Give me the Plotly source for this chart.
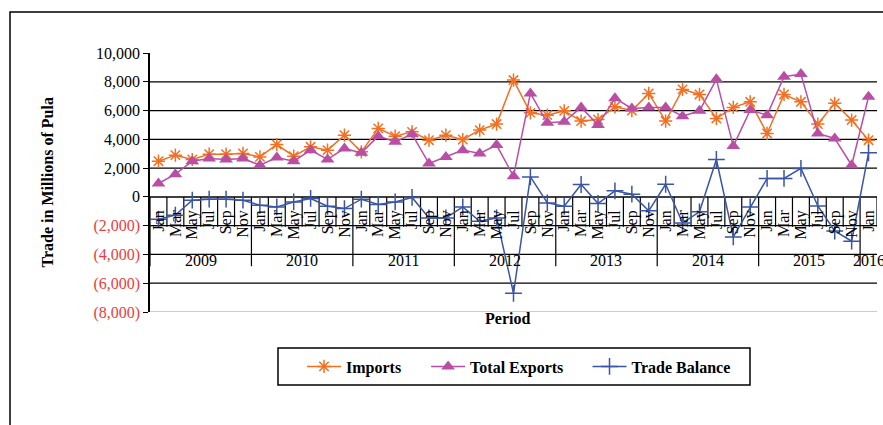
import plotly.graph_objects as go

# ---------------- data ----------------
years = [2009, 2010, 2011, 2012, 2013, 2014, 2015, 2016]
months = ["Jan", "Mar", "May", "Jul", "Sep", "Nov"]

imports = [2480, 2900, 2600, 2970, 2970, 3020,
           2780, 3640, 2830, 3480, 3250, 4290,
           3130, 4760, 4220, 4520, 3940, 4290,
           3990, 4640, 5060, 8120, 5840, 5680,
           5980, 5270, 5380, 6260, 6000, 7190,
           5270, 7470, 7120, 5450, 6220, 6610,
           4410, 7120, 6610, 5060, 6500, 5340,
           3940]
total_exports = [930, 1580, 2480, 2670, 2600, 2670,
                 2200, 2740, 2480, 3250, 2600, 3370,
                 3060, 4220, 3830, 4360, 2320, 2780,
                 3250, 3020, 3600, 1440, 7190, 5150,
                 5220, 6220, 4990, 6850, 6150, 6220,
                 6220, 5610, 5980, 8170, 3530, 6030,
                 5680, 8350, 8540, 4410, 4060, 2200,
                 6960]
trade_balance = [-1550, -1270, -230, -160, -160, -230,
                 -580, -700, -350, -110, -650, -810,
                 -160, -530, -350, -40, -1460, -1460,
                 -700, -1690, -1460, -6700, 1390, -420,
                 -650, 860, -460, 420, 190, -970,
                 880, -1810, -1040, 2600, -2780, -700,
                 1280, 1280, 1980, -630, -2370, -3080,
                 3060]
y_tick_values = [10000, 8000, 6000, 4000, 2000, 0, -2000, -4000, -6000, -8000]

# ---------------- derived ----------------
n = len(imports)
period_year = [years[i // len(months)] for i in range(n)]
period_month = [months[i % len(months)] for i in range(n)]
periods = [f"{m} {y}" for m, y in zip(period_month, period_year)]

RED = "#EE3B3B"
def fmt(v):
    if v < 0:
        return f"<span style='color:{RED}'>({abs(v):,})</span>"
    return f"{v:,}"
y_tick_text = [fmt(v) for v in y_tick_values]

SERIF = "Liberation Serif, Times New Roman, serif"
C_IMP = "#F36F21"
C_EXP = "#B84FA5"
C_BAL = "#3A55A4"
NB = "\u00a0"

fig = go.Figure()
fig.add_trace(go.Scatter(
    x=periods, y=imports, name="Imports" + NB * 5, mode="lines+markers",
    line=dict(color=C_IMP, width=1.5),
    marker=dict(symbol="asterisk-open", size=11, line=dict(color=C_IMP, width=1.5)),
    cliponaxis=False))
fig.add_trace(go.Scatter(
    x=periods, y=total_exports, name="Total Exports" + NB * 4 + "\u2009", mode="lines+markers",
    line=dict(color=C_EXP, width=1.5),
    marker=dict(symbol="triangle-up", size=12, color=C_EXP),
    cliponaxis=False))
fig.add_trace(go.Scatter(
    x=periods, y=trade_balance, name="Trade Balance", mode="lines+markers",
    line=dict(color=C_BAL, width=1.5),
    marker=dict(symbol="cross-thin-open", size=12, line=dict(color=C_BAL, width=1.5)),
    cliponaxis=False))

ymin, ymax = min(y_tick_values), max(y_tick_values)
zero_frac = (0 - ymin) / (ymax - ymin)

shapes = []
# horizontal gridlines
for v in y_tick_values:
    if v == ymax:
        continue
    shapes.append(dict(type="line", xref="paper", yref="y", x0=0, x1=1, y0=v, y1=v,
                       line=dict(color="#9A9A9A" if v == ymin else "black",
                                 width=1.5 if v == 0 else 1.2),
                       layer="below"))
# category separators (month level and year level)
for b in range(n + 1):
    is_year = (b % len(months) == 0) and b != n
    shapes.append(dict(type="line", xref="x", yref="y", x0=b - 0.5, x1=b - 0.5,
                       y0=0, y1=-4820 if is_year else -2080,
                       line=dict(color="black", width=1.2), layer="below"))
# outer chart border
shapes.append(dict(type="rect", xref="paper", yref="paper",
                   x0=(10 - 150) / 727, x1=(895 - 150) / 727,
                   y0=(312 - 440) / 259, y1=(312 - 12) / 259,
                   line=dict(color="black", width=1.5), fillcolor="rgba(0,0,0,0)"))
# legend frame
shapes.append(dict(type="rect", xref="paper", yref="paper",
                   x0=(278 - 150) / 727, x1=(750 - 150) / 727,
                   y0=(312 - 385) / 259, y1=(312 - 348) / 259,
                   line=dict(color="black", width=1.5), fillcolor="rgba(0,0,0,0)"))

annotations = []
# year labels centred in their groups
for y in years:
    idx = [i for i, py in enumerate(period_year) if py == y]
    annotations.append(dict(x=(idx[0] + idx[-1]) / 2, y=(312 - 260) / 259,
                            xref="x", yref="paper", text=str(y), showarrow=False,
                            font=dict(family=SERIF, size=16, color="black"),
                            xanchor="center", yanchor="middle"))
annotations.append(dict(x=(47 - 150) / 727, y=0.5, xref="paper", yref="paper",
                        text="Trade in Millions of Pula", textangle=-90, showarrow=False,
                        font=dict(family=SERIF, size=16, color="black", weight="bold"),
                        xanchor="center", yanchor="middle"))
annotations.append(dict(x=(507 - 150) / 727, y=(312 - 318) / 259, xref="paper", yref="paper",
                        text="Period", showarrow=False,
                        font=dict(family=SERIF, size=16, color="black", weight="bold"),
                        xanchor="center", yanchor="middle"))

fig.update_layout(
    width=883, height=425,
    margin=dict(l=150, r=6, t=53, b=113),
    paper_bgcolor="white", plot_bgcolor="white",
    font=dict(family=SERIF, size=16, color="black"),
    showlegend=True,
    legend=dict(orientation="h", x=(302 - 150) / 727, xanchor="left",
                y=(312 - 366.5) / 259, yanchor="middle", itemwidth=34,
                bgcolor="rgba(0,0,0,0)", borderwidth=0,
                font=dict(family=SERIF, size=16, color="black", weight="bold")),
    xaxis=dict(type="category", categoryorder="array", categoryarray=periods,
               range=[-0.5, n - 0.5], anchor="free", position=zero_frac,
               tickmode="array", tickvals=periods, ticktext=period_month,
               tickangle=-90, ticks="outside", ticklen=6, tickcolor="rgba(0,0,0,0)",
               tickfont=dict(family=SERIF, size=16, color="black"),
               showgrid=False, showline=False, zeroline=False),
    yaxis=dict(range=[ymin, ymax], tickmode="array", tickvals=y_tick_values,
               ticktext=y_tick_text, ticks="outside", ticklen=5, tickcolor="black",
               tickwidth=1.2, showline=True, linecolor="black", linewidth=1.5,
               showgrid=False, zeroline=False,
               tickfont=dict(family=SERIF, size=16, color="black")),
    shapes=shapes, annotations=annotations,
)

fig.write_html("out.html", config={"displayModeBar": False},
               post_script="document.body.style.margin='0px';")
